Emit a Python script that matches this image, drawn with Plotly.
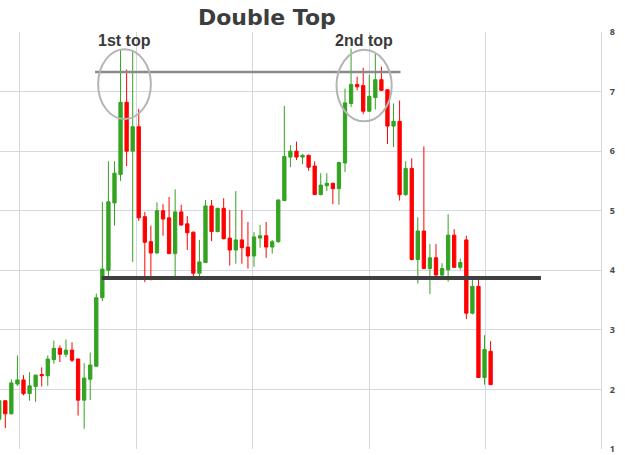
import plotly.graph_objects as go

# Daily OHLC prices
opens = [1.50, 1.81, 1.59, 2.09, 2.16, 1.93, 2.05, 2.25, 2.23, 2.50,
         2.69, 2.59, 2.66, 2.51, 1.82, 2.17, 2.39, 3.54, 4.00, 5.13,
         5.61, 6.82, 6.00, 6.41, 4.90, 4.48, 4.29, 5.00, 4.88, 4.28,
         4.98, 4.78, 4.64, 3.95, 4.13, 5.08, 4.65, 5.04, 4.54, 4.34,
         4.51, 4.39, 4.24, 4.54, 4.58, 4.39, 4.48, 5.17, 5.90, 6.00,
         5.90, 5.93, 5.75, 5.27, 5.42, 5.46, 5.37, 5.80, 6.80, 7.12,
         7.10, 6.67, 6.90, 7.20, 7.03, 6.42, 6.50, 5.27, 5.71, 4.18,
         4.66, 4.03, 4.21, 3.92, 4.01, 4.59, 4.05, 4.51, 3.28, 3.73,
         2.20, 2.64]
highs = [1.85, 1.82, 2.17, 2.57, 2.24, 2.29, 2.25, 2.37, 2.57, 2.82,
         2.74, 2.84, 2.79, 2.52, 2.44, 2.62, 3.61, 5.15, 5.83, 5.83,
         7.70, 7.37, 7.70, 6.71, 4.98, 4.75, 5.14, 5.11, 5.23, 5.36,
         5.10, 4.91, 4.65, 4.51, 5.18, 5.18, 5.05, 5.21, 5.01, 5.33,
         5.01, 4.81, 4.64, 4.76, 4.81, 4.51, 5.19, 6.76, 6.10, 6.16,
         5.95, 5.94, 5.83, 5.63, 5.63, 5.47, 5.82, 7.05, 7.72, 7.25,
         7.40, 7.28, 7.65, 7.42, 7.04, 6.80, 6.85, 5.83, 5.88, 4.89,
         6.08, 4.44, 4.44, 4.12, 4.94, 4.69, 4.20, 4.58, 3.84, 3.84,
         2.91, 2.81]
lows = [1.42, 1.35, 1.58, 2.06, 1.90, 1.81, 1.79, 2.05, 2.06, 2.43,
        2.46, 2.54, 2.46, 1.56, 1.34, 1.82, 2.38, 3.48, 3.89, 4.75,
        5.50, 5.75, 4.14, 4.83, 3.80, 3.83, 4.28, 4.58, 4.28, 3.88,
        4.75, 4.34, 3.89, 3.89, 4.12, 4.49, 4.64, 4.52, 4.08, 4.11,
        4.11, 4.03, 4.06, 4.38, 4.21, 4.28, 4.46, 5.16, 5.73, 5.85,
        5.78, 5.67, 5.27, 5.26, 5.33, 5.11, 5.10, 5.65, 6.74, 7.02,
        6.62, 6.66, 6.70, 7.01, 6.12, 6.07, 5.17, 5.25, 4.17, 3.78,
        4.02, 3.60, 3.91, 3.88, 3.81, 4.04, 4.01, 3.18, 3.26, 2.20,
        2.08, 2.08]
closes = [1.81, 1.59, 2.11, 2.16, 1.93, 2.06, 2.24, 2.23, 2.51, 2.69,
          2.59, 2.66, 2.49, 1.82, 2.19, 2.41, 3.54, 4.02, 5.15, 5.63,
          6.82, 6.00, 6.41, 4.88, 4.47, 4.29, 5.00, 4.86, 4.28, 4.98,
          4.76, 4.63, 3.95, 4.14, 5.08, 4.65, 5.04, 4.53, 4.34, 4.51,
          4.38, 4.24, 4.56, 4.58, 4.39, 4.48, 5.18, 5.91, 6.00, 5.90,
          5.93, 5.73, 5.27, 5.43, 5.46, 5.37, 5.81, 6.81, 7.12, 7.08,
          6.67, 6.92, 7.20, 7.02, 6.42, 6.50, 5.27, 5.71, 4.18, 4.66,
          4.03, 4.21, 3.92, 4.03, 4.59, 4.05, 4.13, 3.28, 3.73, 2.20,
          2.67, 2.08]
days = list(range(len(opens)))

# Pattern levels
resistance = 7.33
neckline = 3.87
resistance_span = [15.8, 66.15]
neckline_span = [16.9, 89.3]
tops = [
    {"label": "1st top", "x": [16.3, 25.0], "y": [6.54, 7.71]},
    {"label": "2nd top", "x": [55.6, 64.7], "y": [6.50, 7.70]},
]

y_ticks = [1, 2, 3, 4, 5, 6, 7, 8]
x_grid = [3.37, 22.66, 41.8, 61.0, 80.2]

GREEN = "#34a321"
RED = "#ff0000"
GRID = "#d3d9de"

fig = go.Figure(go.Candlestick(
    x=days, open=opens, high=highs, low=lows, close=closes,
    increasing=dict(line=dict(color=GREEN, width=1), fillcolor=GREEN),
    decreasing=dict(line=dict(color=RED, width=1), fillcolor=RED),
    whiskerwidth=0, hoverinfo="skip",
))

shapes = [
    dict(type="line", xref="x", yref="y", x0=resistance_span[0], x1=resistance_span[1],
         y0=resistance, y1=resistance, line=dict(color="#8a8a8a", width=2.5)),
    dict(type="line", xref="x", yref="y", x0=neckline_span[0], x1=neckline_span[1],
         y0=neckline, y1=neckline, line=dict(color="#3f3f3f", width=4)),
]
annotations = []
for t in tops:
    shapes.append(dict(type="circle", xref="x", yref="y", x0=t["x"][0], x1=t["x"][1],
                       y0=t["y"][0], y1=t["y"][1], line=dict(color="#b4b4b4", width=2)))
    annotations.append(dict(x=(t["x"][0] + t["x"][1]) / 2, y=7.85, xref="x", yref="y",
                            text="<b>%s</b>" % t["label"], showarrow=False,
                            font=dict(family="Liberation Sans", size=16, color="#3a3a3a")))

fig.update_layout(
    width=625, height=455,
    margin=dict(l=0, r=24, t=32, b=4),
    paper_bgcolor="white", plot_bgcolor="white",
    showlegend=False,
    boxgap=0.22,
    title=dict(text="<b>Double Top</b>", x=0.427, xanchor="center", y=0.962, yanchor="middle",
               font=dict(family="DejaVu Sans", size=22, color="#3d3d3d")),
    shapes=shapes, annotations=annotations,
    xaxis=dict(range=[0.127, 99.2], rangeslider=dict(visible=False),
               tickvals=x_grid, showticklabels=False, showgrid=True,
               gridcolor=GRID, gridwidth=1, zeroline=False, showline=False, ticks=""),
    yaxis=dict(range=[1, 8], side="right", tickvals=y_ticks, showgrid=True,
               gridcolor=GRID, gridwidth=1, zeroline=False,
               showline=True, linecolor=GRID, linewidth=1, ticks="", ticklabelstandoff=6,
               ticklabeloverflow="allow",
               tickfont=dict(family="Open Sans", size=9, color="#4a4a4a", weight="bold")),
)

fig.write_html("out.html")
